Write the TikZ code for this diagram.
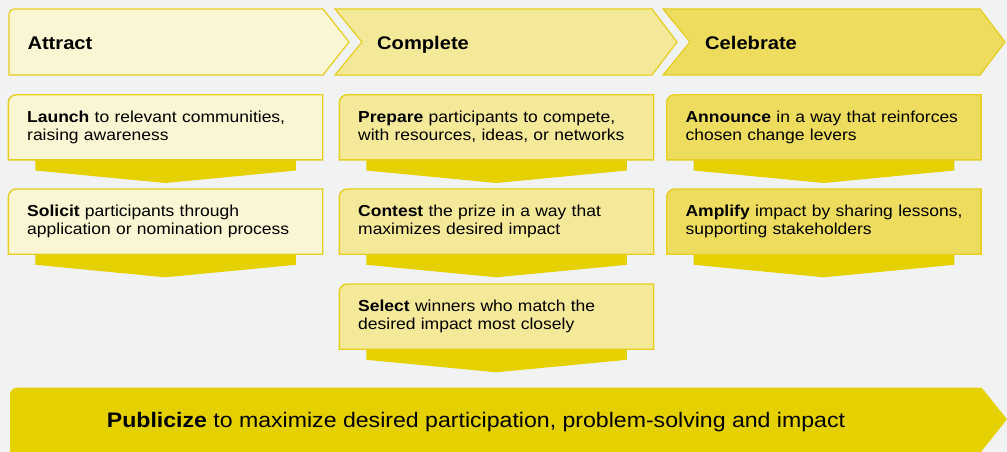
\documentclass[tikz,border=0pt]{standalone}
\usepackage{fontspec}
\setmainfont{Liberation Sans}[FakeStretch=1.1]
\definecolor{bg}{HTML}{F1F2F4}
\definecolor{bordery}{HTML}{E6CE1E}
\definecolor{cA}{HTML}{FAF5D2}
\definecolor{cB}{HTML}{F4E899}
\definecolor{cC}{HTML}{EEDC5F}
\definecolor{arrowy}{HTML}{E6D100}
\newcommand\bodyfont{\fontsize{15.9}{18}\selectfont}
\newcommand\hdrfont{\fontsize{18.3}{20}\selectfont\bfseries}
\newcommand\banfont{\fontsize{21}{24}\selectfont}
\tikzset{
  hdr/.style={draw=bordery, line width=1.2pt, fill=#1, line join=miter},
  boxshape/.style={draw=bordery, line width=1.4pt, fill=#1},
  darrow/.style={fill=arrowy},
  txt/.style={anchor=base west, inner sep=0pt, text width=300pt, align=left, font=\bodyfont},
  hdrtxt/.style={anchor=base west, inner sep=0pt, font=\hdrfont},
}
% #1 x0, #2 ytop, #3 fill, #4 node name, #5 text
\newcommand\stepbox[5]{%
  \fill[darrow] ({#1+27},{#2+64}) -- ({#1+287.6},{#2+64}) -- ({#1+287.6},{#2+75.8})
     -- ({#1+157},{#2+88.3}) -- ({#1+27},{#2+75.8}) -- cycle;
  \draw[boxshape=#3] (#1,{#2+65.2}) -- (#1,{#2+8}) .. controls (#1,{#2+3.6}) and ({#1+3.6},#2) .. ({#1+8},#2)
     -- ({#1+314.4},#2) -- ({#1+314.4},{#2+65.2}) -- cycle;
  \node[txt] (#4) at ({#1+18.7},{#2+27.8}) {#5};
}
\begin{document}
\begin{tikzpicture}[x=1pt,y=-1pt]
\useasboundingbox (0,0) rectangle (1007,452);
\fill[bg] (0,0) rectangle (1007,452);
% header chevrons
\draw[hdr=cA] (9,75) -- (9,14) .. controls (9,11.2) and (11.2,9) .. (14,9) -- (323,9) -- (349,42) -- (323,75) -- cycle;
\draw[hdr=cB] (335,9) -- (652,9) -- (677,42) -- (652,75) -- (335,75) -- (362,42) -- cycle;
\draw[hdr=cC] (663,9) -- (980,9) -- (1005,42) -- (980,75) -- (663,75) -- (690,42) -- cycle;
\node[hdrtxt] (attract) at (27.3,49.3) {Attract};
\node[hdrtxt] (complete) at (377,49.3) {Complete};
\node[hdrtxt] (celebrate) at (705,49.3) {Celebrate};
% column 1
\stepbox{8.3}{94.7}{cA}{launch}{\textbf{Launch} to relevant communities,\\raising awareness}
\stepbox{8.3}{189}{cA}{solicit}{\textbf{Solicit} participants through\\application or nomination process}
% column 2
\stepbox{339.3}{94.7}{cB}{prepare}{\textbf{Prepare} participants to compete,\\with resources, ideas, or networks}
\stepbox{339.3}{189}{cB}{contest}{\textbf{Contest} the prize in a way that\\maximizes desired impact}
\stepbox{339.3}{284}{cB}{select}{\textbf{Select} winners who match the\\desired impact most closely}
% column 3
\stepbox{666.7}{94.7}{cC}{announce}{\textbf{Announce} in a way that reinforces\\chosen change levers}
\stepbox{666.7}{189}{cC}{amplify}{\textbf{Amplify} impact by sharing lessons,\\supporting stakeholders}
% banner
\fill[arrowy] (10,452) -- (10,394.7) .. controls (10,390.8) and (13.1,387.7) .. (17,387.7) -- (981.7,387.7) -- (1007,419.3) -- (981.7,451) -- (981.7,452) -- cycle;
\node[anchor=base west, inner sep=0pt, font=\banfont] (publicize) at (106.7,427.3) {\textbf{Publicize} to maximize desired participation, problem-solving and impact};
\end{tikzpicture}
\end{document}
